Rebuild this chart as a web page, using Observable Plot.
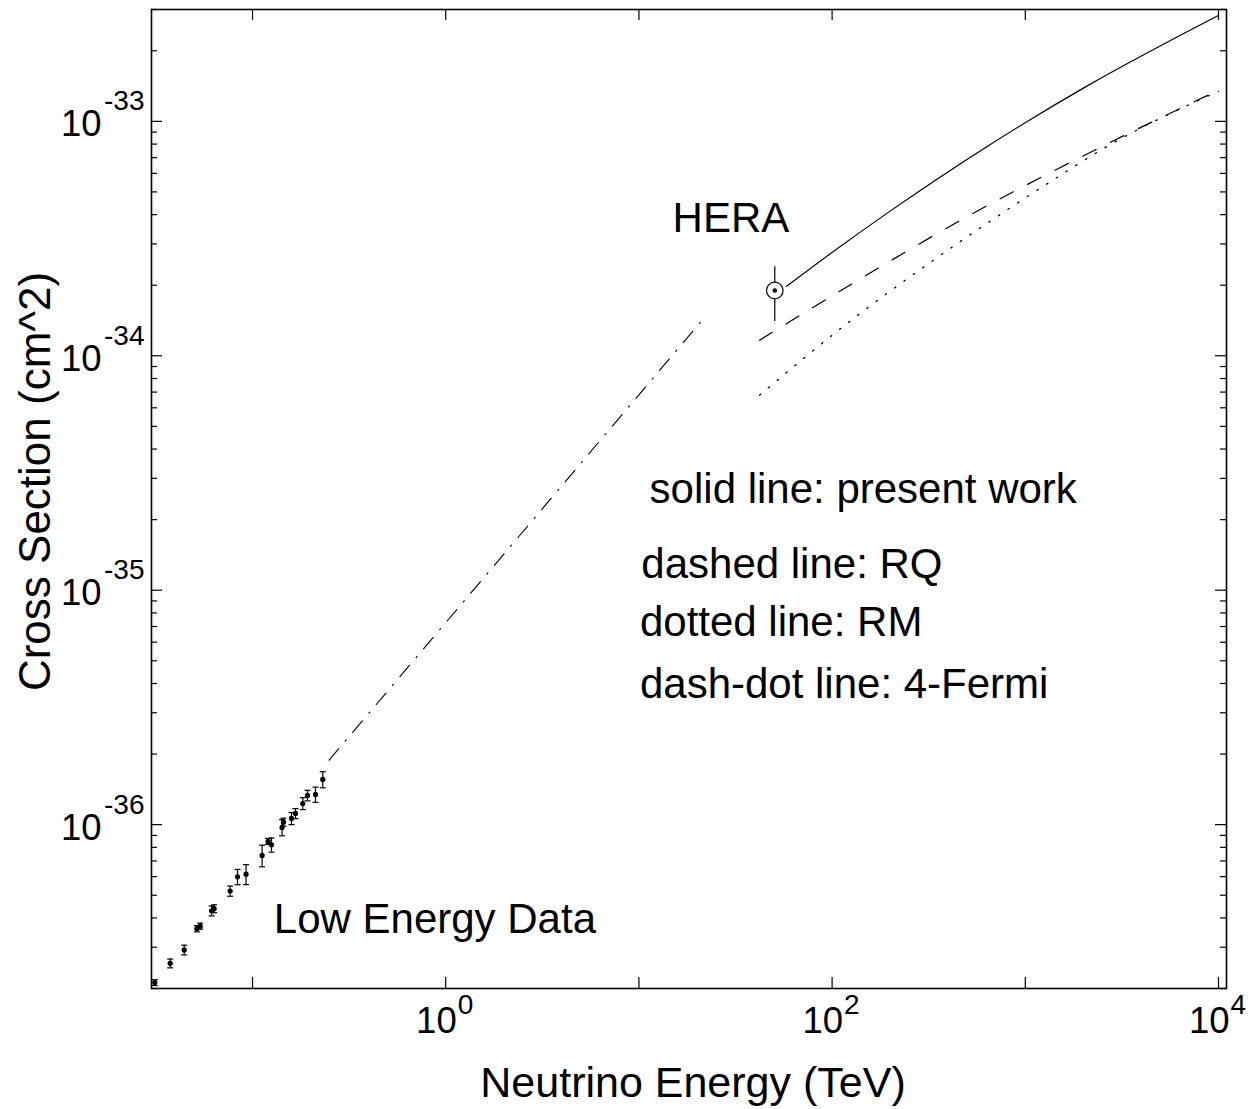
<!DOCTYPE html>
<html><head><meta charset="utf-8">
<script src="https://cdn.jsdelivr.net/npm/d3@7"></script>
<script src="https://cdn.jsdelivr.net/npm/@observablehq/plot@0.6"></script>
<style>body{margin:0;background:#fff} svg{display:block}</style>
</head><body><div id="chart"></div>
<script>
// ---- data (energy in TeV, cross section in cm^2) ----
const lowE = [0.0312,0.0375,0.0443,0.0515,0.0536,0.0614,0.0633,0.0766,0.0836,0.0926,0.1121,0.1204,0.1254,0.1422,0.1446,0.1591,0.1669,0.182,0.1925,0.2118,0.231];
const lowSigma = [2.12e-37,2.56e-37,2.92e-37,3.60e-37,3.69e-37,4.29e-37,4.38e-37,5.21e-37,5.99e-37,6.15e-37,7.39e-37,8.48e-37,8.20e-37,9.73e-37,1.025e-36,1.063e-36,1.116e-36,1.231e-36,1.332e-36,1.345e-36,1.559e-36];
const lowErr = [0.06e-37,0.11e-37,0.14e-37,0.11e-37,0.11e-37,0.21e-37,0.17e-37,0.26e-37,0.45e-37,0.60e-37,0.78e-37,0.25e-37,0.57e-37,0.77e-37,0.40e-37,0.63e-37,0.55e-37,0.72e-37,0.69e-37,1.0e-37,1.23e-37];

const heraE = [50.5];
const heraSigma = [1.9e-34];
const heraErr = [0.5e-34];

const solidE = [58.1, 97.0, 191.2, 629, 2070, 9975];
const solidSigma = [1.978e-34, 2.71e-34, 4.04e-34, 7.78e-34, 1.41e-33, 2.83e-33];

const rqE = [42.1, 130.6, 461.6, 2446, 9977];
const rqSigma = [1.165e-34, 2.058e-34, 3.78e-34, 7.75e-34, 1.356e-33];

const rmE = [42.1, 127.5, 322.9, 743.2, 1519, 2446, 9977];
const rmSigma = [6.79e-35, 1.431e-34, 2.505e-34, 4.01e-34, 5.885e-34, 7.52e-34, 1.343e-33];

const fermiE = [0.249, 2.35, 22.1];
const fermiSigma = [1.884e-36, 1.667e-35, 1.474e-34];

const xTickVals = [0.1, 1, 10, 100, 1000, 10000];
const xLabelVals = [1, 100, 10000];
const xLabelExp = ["0", "2", "4"];
const yTickVals = [1e-36, 1e-35, 1e-34, 1e-33];
const yLabelExp = ["-36", "-35", "-34", "-33"];

const notes = [
  {x: 14.94, y: 3.86e-34, label: "HERA"},
  {x: 11.36, y: 2.696e-35, label: "solid line: present work"},
  {x: 10.29, y: 1.291e-35, label: "dashed line: RQ"},
  {x: 10.12, y: 7.27e-36, label: "dotted line: RM"},
  {x: 10.12, y: 3.94e-36, label: "dash-dot line: 4-Fermi"},
  {x: 0.1289, y: 3.95e-37, label: "Low Energy Data"}
];
const xTitle = "Neutrino Energy (TeV)";
const yTitle = "Cross Section (cm^2)";

// ---- build tables ----
const low = lowE.map((E, i) => ({E, s: lowSigma[i], e: lowErr[i]}));
const hera = heraE.map((E, i) => ({E, s: heraSigma[i], e: heraErr[i]}));
const toPts = (xs, ys) => xs.map((x, i) => ({x, y: ys[i]}));
const yMinor = [];
for (let p = -37; p <= -33; p++) for (let m = 2; m <= 9; m++) {
  const v = m * Math.pow(10, p);
  if (v >= 2e-37 && v <= 3e-33) yMinor.push(v);
}

const W = 1257, H = 1109, ML = 151, MR = 31, MT = 9, MB = 121;
const FW = W - ML - MR, FH = H - MT - MB;
const font = "Liberation Sans, Arial, Helvetica, sans-serif";
const capSymbol = {draw(ctx) { ctx.moveTo(-3, 0); ctx.lineTo(3, 0); }};

const chart = Plot.plot({
  width: W, height: H,
  marginLeft: ML, marginRight: MR, marginTop: MT, marginBottom: MB,
  style: {fontFamily: font, background: "#fff", color: "#000"},
  x: {type: "log", domain: [0.03, 11000], axis: null},
  y: {type: "log", domain: [2e-37, 3e-33], axis: null},
  marks: [
    // ticks (inward, all four sides)
    Plot.tickX(xTickVals, {x: d => d, insetTop: FH - 11, stroke: "black", strokeWidth: 1.2}),
    Plot.tickX(xTickVals, {x: d => d, insetBottom: FH - 11, stroke: "black", strokeWidth: 1.2}),
    Plot.tickY(yTickVals, {y: d => d, insetRight: FW - 11, stroke: "black", strokeWidth: 1.2}),
    Plot.tickY(yTickVals, {y: d => d, insetLeft: FW - 11, stroke: "black", strokeWidth: 1.2}),
    Plot.tickY(yMinor, {y: d => d, insetRight: FW - 6, stroke: "black", strokeWidth: 1.2}),
    Plot.tickY(yMinor, {y: d => d, insetLeft: FW - 6, stroke: "black", strokeWidth: 1.2}),
    Plot.frame({stroke: "black", strokeWidth: 1.6}),
    // tick labels
    Plot.text(xLabelVals, {x: d => d, text: () => "10", frameAnchor: "bottom", textAnchor: "end", lineAnchor: "bottom", dx: 11, dy: 44, fontSize: 36.5}),
    Plot.text(xLabelVals, {x: d => d, text: (d, i) => xLabelExp[i], frameAnchor: "bottom", textAnchor: "start", lineAnchor: "bottom", dx: 12, dy: 25, fontSize: 28}),
    Plot.text(yTickVals, {y: d => d, text: () => "10", frameAnchor: "left", textAnchor: "end", lineAnchor: "bottom", dx: -50, dy: 15, fontSize: 36.5}),
    Plot.text(yTickVals, {y: d => d, text: (d, i) => yLabelExp[i], frameAnchor: "left", textAnchor: "end", lineAnchor: "bottom", dx: -7, dy: -11, fontSize: 28}),
    // axis titles
    Plot.text([xTitle], {frameAnchor: "bottom", textAnchor: "middle", lineAnchor: "bottom", dx: 4, dy: 108, fontSize: 43}),
    Plot.text([yTitle], {frameAnchor: "left", textAnchor: "middle", rotate: -90, lineAnchor: "middle", dx: -115.5, dy: -17.5, fontSize: 44}),
    // curves
    Plot.line(toPts(fermiE, fermiSigma), {x: "x", y: "y", stroke: "black", strokeWidth: 1.1, strokeDasharray: "15,10,1.5,10"}),
    Plot.line(toPts(rmE, rmSigma), {x: "x", y: "y", curve: "monotone-x", stroke: "black", strokeWidth: 1.3, strokeDasharray: "1.5,10"}),
    Plot.line(toPts(rqE, rqSigma), {x: "x", y: "y", curve: "monotone-x", stroke: "black", strokeWidth: 1.2, strokeDasharray: "15,16"}),
    Plot.line(toPts(solidE, solidSigma), {x: "x", y: "y", curve: "monotone-x", stroke: "black", strokeWidth: 1.2}),
    // low energy data
    Plot.ruleX(low, {x: "E", y1: d => d.s - d.e, y2: d => d.s + d.e, stroke: "black", strokeWidth: 1.2}),
    Plot.dot(low, {x: "E", y: d => d.s - d.e, symbol: capSymbol, stroke: "black", strokeWidth: 1.2, fill: "none"}),
    Plot.dot(low, {x: "E", y: d => d.s + d.e, symbol: capSymbol, stroke: "black", strokeWidth: 1.2, fill: "none"}),
    Plot.dot(low, {x: "E", y: "s", r: 2.6, fill: "black", stroke: null}),
    // HERA point
    Plot.ruleX(hera, {x: "E", y1: d => d.s - d.e, y2: d => d.s + d.e, stroke: "black", strokeWidth: 1.2}),
    Plot.dot(hera, {x: "E", y: "s", r: 8.3, fill: "white", stroke: "black", strokeWidth: 1.2}),
    Plot.dot(hera, {x: "E", y: "s", r: 2.3, fill: "black", stroke: null}),
    // annotations
    Plot.text(notes, {x: "x", y: "y", text: "label", textAnchor: "start", lineAnchor: "middle", fontSize: 42})
  ]
});
document.getElementById("chart").appendChild(chart);
</script>
</body></html>
